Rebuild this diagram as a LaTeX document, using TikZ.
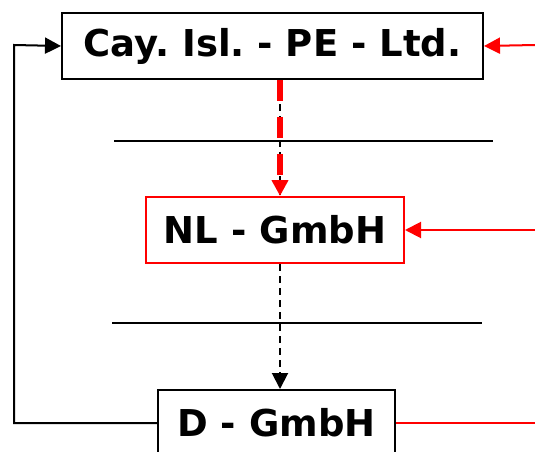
\documentclass[tikz,border=0pt]{standalone}
\usepackage{fontspec}
\setmainfont{DejaVu Sans}
\frenchspacing
\usetikzlibrary{arrows.meta}
\begin{document}
\begin{tikzpicture}[x=1pt,y=-1pt,
  box/.style={draw=black, line width=2pt, minimum height=66pt, inner sep=0pt, font=\bfseries\fontsize{37}{42}\selectfont, anchor=north west},
  tip/.style={-{Triangle[length=16pt,width=16pt]}},
  conn/.style={line width=2pt}]
\useasboundingbox (0,0) rectangle (535,452);
\clip (0,0) rectangle (535,452);
\node[box, minimum width=421pt] (top) at (61,12) {Cay. Isl. - PE - Ltd.};
\node[box, draw=red, minimum width=258pt] (nl) at (145,196) {NL - GmbH};
\node[box, minimum width=237pt] (d) at (157,389) {D - GmbH};
\coordinate (l1a) at (114,141); \coordinate (l1b) at (493,141);
\coordinate (l2a) at (112,323); \coordinate (l2b) at (482,323);
\draw[conn] (l1a) -- (l1b);
\draw[conn] (l2a) -- (l2b);
\coordinate (rt) at (535,45);
\coordinate (rn) at (535,230);
\coordinate (rd) at (535,423);
\coordinate (lc) at (14,45);
\coordinate (ld) at (14,423);
\draw[conn, red, tip] (rt) -- (top.east);
\draw[conn, red, tip] (rn) -- (nl.east);
\draw[conn, red] (d.west -| d.east) -- (rd);
\draw[conn, tip] (ld -| d.west) -- (ld) -- (lc) -- (top.west);
\draw[conn, dash pattern=on 7pt off 5pt, tip] (nl.south -| 280,0) -- (d.north -| 280,0);
\draw[conn, dash pattern=on 7pt off 5pt] (top.south -| 280,0) -- (nl.north -| 280,0);
\draw[line width=6pt, red, dash pattern=on 21pt off 16pt, -{Triangle[length=16pt,width=16pt]}] (top.south -| 280,0) -- (nl.north -| 280,0);
\end{tikzpicture}
\end{document}
